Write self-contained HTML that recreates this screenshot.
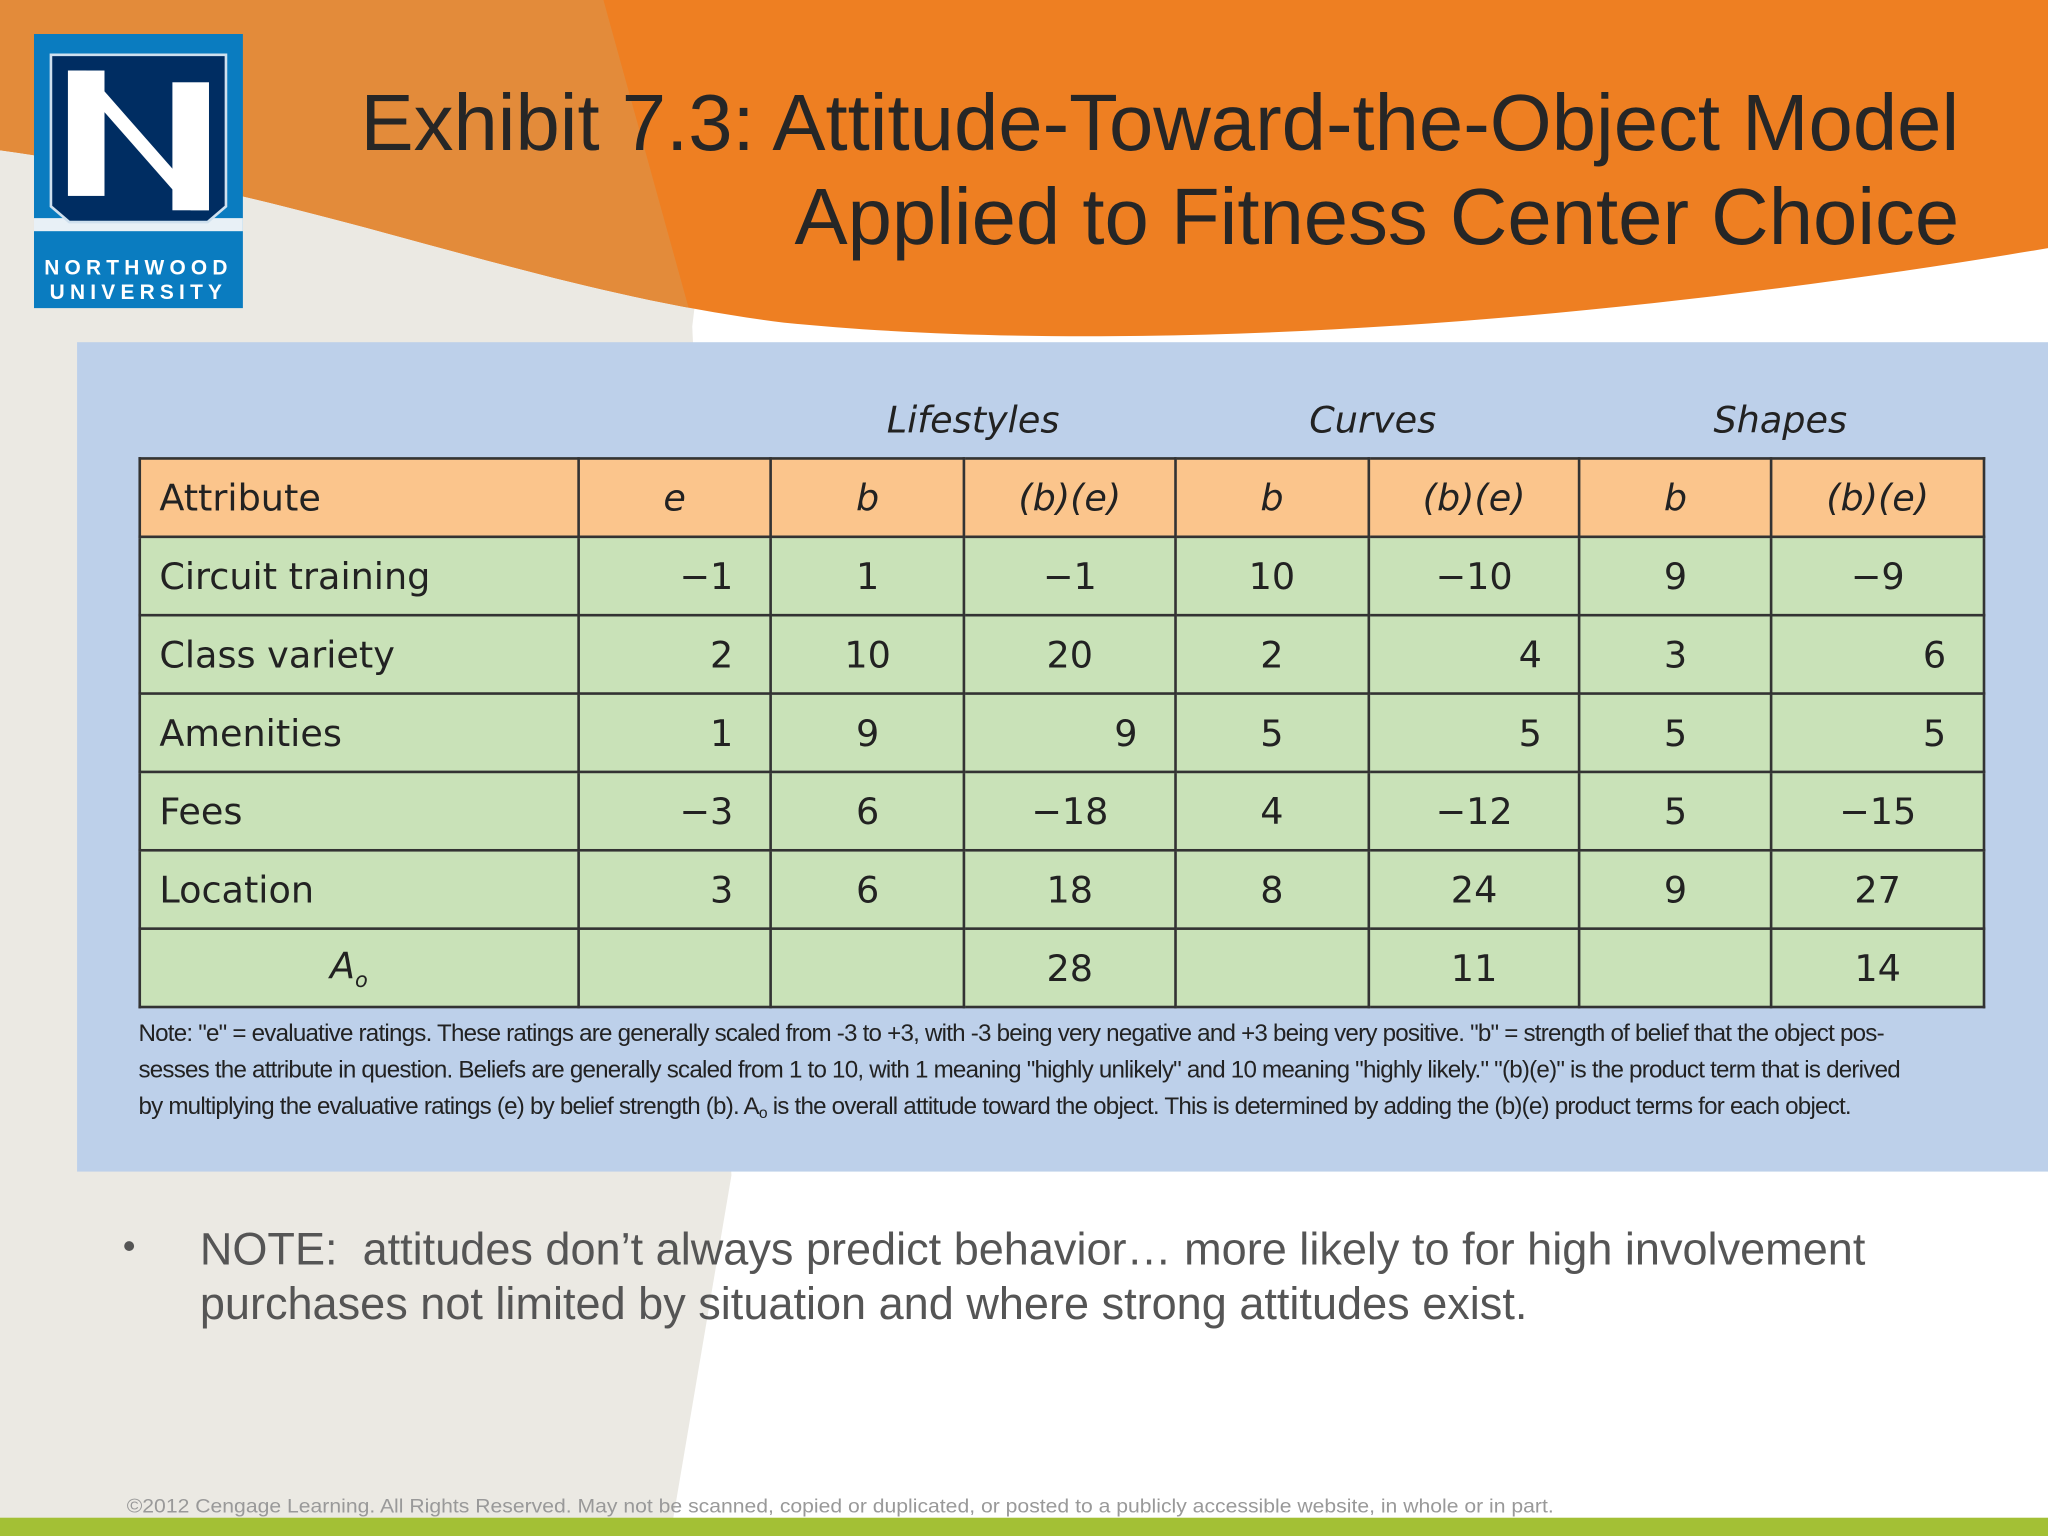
<!DOCTYPE html>
<html><head><meta charset="utf-8"><style>
html,body{margin:0;padding:0;width:2048px;height:1536px;overflow:hidden;background:#fff}
#stage{position:absolute;left:0;top:0;width:1568px;height:1176px;transform:scale(1.306122);transform-origin:0 0;font-family:"Liberation Sans",sans-serif}
.abs{position:absolute}
table{border-collapse:collapse;position:absolute;left:106px;top:350px;width:1414px;font-family:"DejaVu Sans","Liberation Sans",sans-serif;font-size:28px;color:#222}
td{border:2px solid #333;height:58px;padding:0 14px;box-sizing:border-box}
tr{height:60px}
tr.h td{background:#fbc58c;font-style:italic}
tr.b td{background:#c9e2b8}
td.n{text-align:right;padding-right:28px}
td.c{text-align:center}
.grp{position:absolute;top:305px;font-family:"DejaVu Sans",sans-serif;font-style:italic;font-size:28px;color:#222;transform:translateX(-50%)}
.note{position:absolute;left:106px;top:777px;width:1410px;font-family:"Liberation Sans",sans-serif;font-size:18.5px;line-height:28px;color:#222;letter-spacing:-0.6px}
.note sub{font-size:12px;line-height:0;vertical-align:-3px}
</style></head><body>
<div id="stage">
<svg class="abs" style="left:0;top:0" width="1568" height="1176">
<defs><clipPath id="hdr"><path d="M0,0 L1568,0 L1568,190 C1200,252 850,272 600,247 C400,222 250,150 0,115 Z"/></clipPath></defs>
<rect x="0" y="0" width="1568" height="1176" fill="#fff"/>
<path d="M0,0 L560,0 L530,250 L560,900 L515,1165 L0,1165 Z" fill="#ebe9e3"/>
<g clip-path="url(#hdr)">
<rect x="0" y="0" width="1568" height="300" fill="#ee7f22"/>
<path d="M0,0 L462,0 L545,300 L0,300 Z" fill="#e38b3a"/>
</g>
<rect x="0" y="1162" width="1568" height="14" fill="#a3c035"/>
</svg>
<svg class="abs" style="left:26px;top:26px" width="160" height="210">
<rect width="160" height="210" fill="#0a7cc0"/>
<rect x="0" y="141" width="160" height="10" fill="#e8f0f6"/>
<path d="M13,16 L147,16 L147,132 L133,144 L27,144 L13,132 Z" fill="#002d62" stroke="#cfe0ee" stroke-width="2"/>
<rect x="26" y="28" width="28" height="96" fill="#fff"/>
<rect x="106" y="37" width="28" height="98" fill="#fff"/>
<path d="M26,28 L40,28 L134,135 L120,135 Z" fill="#fff"/>
<text x="80" y="184" text-anchor="middle" font-family="Liberation Sans" font-weight="bold" font-size="16" letter-spacing="4" fill="#fff">NORTHWOOD</text>
<text x="80" y="203" text-anchor="middle" font-family="Liberation Sans" font-weight="bold" font-size="16" letter-spacing="4" fill="#fff">UNIVERSITY</text>
</svg>
<div class="abs" style="right:68px;top:58px;text-align:right;font-size:61px;line-height:72px;color:#262626">Exhibit 7.3: Attitude-Toward-the-Object Model<br>Applied to Fitness Center Choice</div>
<div class="abs" style="left:59px;top:262px;width:1509px;height:635px;background:#bdd0ea"></div>
<div class="grp" style="left:745px">Lifestyles</div>
<div class="grp" style="left:1051px">Curves</div>
<div class="grp" style="left:1363px">Shapes</div>
<table>
<colgroup><col style="width:336px"><col style="width:148px"><col style="width:148px"><col style="width:162px"><col style="width:148px"><col style="width:162px"><col style="width:147px"><col style="width:163px"></colgroup>
<tr class="h"><td style="font-style:normal">Attribute</td><td class="c">e</td><td class="c">b</td><td class="c">(b)(e)</td><td class="c">b</td><td class="c">(b)(e)</td><td class="c">b</td><td class="c">(b)(e)</td></tr>
<tr class="b"><td>Circuit training</td><td class="n">−1</td><td class="c">1</td><td class="c">−1</td><td class="c">10</td><td class="c">−10</td><td class="c">9</td><td class="c">−9</td></tr>
<tr class="b"><td>Class variety</td><td class="n">2</td><td class="c">10</td><td class="c">20</td><td class="c">2</td><td class="n">4</td><td class="c">3</td><td class="n">6</td></tr>
<tr class="b"><td>Amenities</td><td class="n">1</td><td class="c">9</td><td class="n">9</td><td class="c">5</td><td class="n">5</td><td class="c">5</td><td class="n">5</td></tr>
<tr class="b"><td>Fees</td><td class="n">−3</td><td class="c">6</td><td class="c">−18</td><td class="c">4</td><td class="c">−12</td><td class="c">5</td><td class="c">−15</td></tr>
<tr class="b"><td>Location</td><td class="n">3</td><td class="c">6</td><td class="c">18</td><td class="c">8</td><td class="c">24</td><td class="c">9</td><td class="c">27</td></tr>
<tr class="b"><td style="text-align:right;padding-right:160px;font-style:italic">A<sub style="font-size:16px">o</sub></td><td></td><td></td><td class="c">28</td><td></td><td class="c">11</td><td></td><td class="c">14</td></tr>
</table>
<div class="note">Note: "e" = evaluative ratings. These ratings are generally scaled from -3 to +3, with -3 being very negative and +3 being very positive. "b" = strength of belief that the object pos-<br>sesses the attribute in question. Beliefs are generally scaled from 1 to 10, with 1 meaning "highly unlikely" and 10 meaning "highly likely." "(b)(e)" is the product term that is derived<br>by multiplying the evaluative ratings (e) by belief strength (b). A<sub>o</sub> is the overall attitude toward the object. This is determined by adding the (b)(e) product terms for each object.</div>
<div class="abs" style="left:94px;top:938px;font-size:28px;color:#555">•</div>
<div class="abs" style="left:153px;top:936px;width:1320px;font-size:34.5px;line-height:42px;color:#555">NOTE:&nbsp; attitudes don’t always predict behavior… more likely to for high involvement purchases not limited by situation and where strong attitudes exist.</div>
<div class="abs" style="left:97px;top:1145px;font-size:15px;color:#999;white-space:nowrap;transform:scaleX(1.08);transform-origin:0 0">©2012 Cengage Learning. All Rights Reserved. May not be scanned, copied or duplicated, or posted to a publicly accessible website, in whole or in part.</div>
</div>
</body></html>
